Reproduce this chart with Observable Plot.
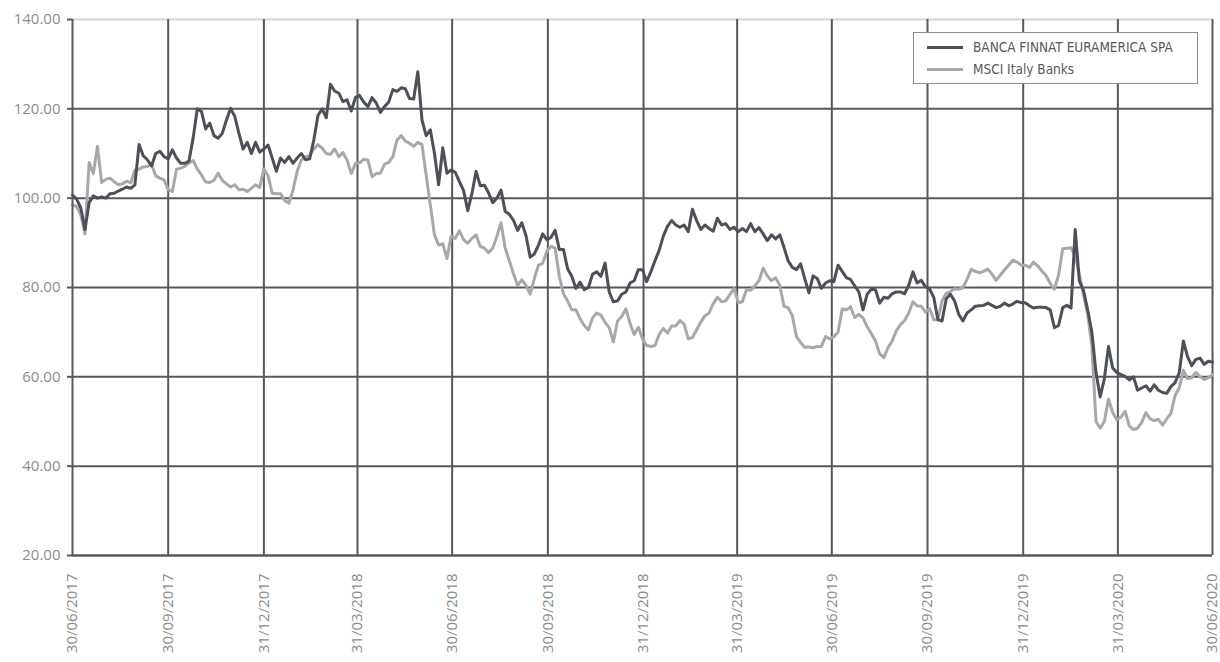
<!DOCTYPE html>
<html>
<head>
<meta charset="utf-8">
<script src="https://cdn.jsdelivr.net/npm/d3@7"></script>
<script src="https://cdn.jsdelivr.net/npm/@observablehq/plot@0.6"></script>
<style>
  html, body { margin: 0; padding: 0; background: #fff; }
  #wrap { position: relative; width: 1220px; height: 662px; overflow: hidden; }
  #legend {
    position: absolute; left: 913px; top: 32px; width: 285px; height: 52px;
    border: 1px solid #8d8e90; background: #fff; box-sizing: border-box;
    font-family: "Liberation Sans Narrow", "DejaVu Sans Condensed", sans-serif;
    font-size: 13.5px; color: #58595b;
  }
  #legend .item { position: absolute; left: 13px; display: flex; align-items: center; }
  #legend .sw { width: 36px; height: 3px; margin-right: 10px; }
</style>
</head>
<body>
<div id="wrap">
  <div id="chart"></div>
  <div id="legend">
    <div class="item" style="top:6px"><span class="sw" style="background:#4e5058"></span>BANCA FINNAT EURAMERICA SPA</div>
    <div class="item" style="top:28px"><span class="sw" style="background:#a8a8aa"></span>MSCI Italy Banks</div>
  </div>
</div>
<script>
// ---- data ----
const startDate = "2017-06-30";
const stepDays = 4; // one reading every 4 calendar days

const seriesNames = ["BANCA FINNAT EURAMERICA SPA", "MSCI Italy Banks"];

const banca = [
100.7,99.8,97.8,93,99,100.5,100,100.3,100,101,
101.1,101.6,102,102.5,102.2,103,112,109.5,108.6,107.2,
110,110.5,109.3,108.8,110.8,109,107.8,107.8,108.3,113.5,
120,119.4,115.5,116.8,114,113.4,114.5,117.5,120.1,118.3,
114.5,111,112.5,110,112.5,110.3,111,111.9,109,106,
109,108,109.3,107.8,109,110,108.6,108.8,113,118.5,
120,118,125.5,124,123.5,121.6,122,119.5,122.5,123,
121.5,120.5,122.5,121.3,119.2,120.5,121.5,124.3,123.9,124.7,
124.5,122.3,122.2,128.3,117.5,114,115.3,110,103,111.3,
105.6,106.3,105.8,103.7,101.7,97.2,101,106,102.8,102.9,
101.2,99,100,101.8,97,96.4,95,92.8,94.5,91.6,
86.8,87.5,89.5,92,90.7,91.2,92.8,88.5,88.5,84.2,
82.5,79.8,81.2,79.5,80,83,83.5,82.5,85.5,79,
76.8,77,78.5,79,81,81.5,84,84,81.3,83.5,
86,88.3,91.5,93.7,95,94,93.5,94,92.5,97.5,
95,93,94,93.2,92.6,95.5,94,94.3,93,93.5,
92.5,93.2,92.5,94.3,92.5,93.4,92,90.5,91.8,90.9,
91.8,89,86,84.5,84,85.3,82,78.8,82.6,82,
79.8,81,81.5,81.3,85,83.6,82.2,81.8,80.4,79,
75,78.5,79.6,79.5,76.5,77.8,77.6,78.6,79,79,
78.6,80.5,83.5,81,81.6,80.2,79.7,77.8,72.8,72.5,
77.5,78.5,77,74,72.5,74.3,75,75.8,75.9,76,
76.5,76,75.5,75.8,76.5,75.9,76.3,76.9,76.6,76.6,
75.9,75.4,75.6,75.6,75.5,75,71,71.5,75.5,76,
75.4,93,81.5,79.3,75,70,61,55.5,59.5,66.8,
62,61,60.5,60.1,59.3,60,57,57.5,58,56.8,
58.2,57,56.5,56.3,57.8,58.7,60.9,68,64.5,62.5,
63.9,64.2,62.8,63.5,63.3
];

const msci = [
98.5,98.1,96.3,92,108,105.5,111.6,103.5,104.2,104.5,
103.7,103,103.2,103.8,103.4,106.3,106.5,107,107.1,107.6,
105,104.5,104.1,101.9,101.5,106.5,106.7,107.1,107.9,108.4,
106.5,105.2,103.6,103.5,104,105.6,104,103.2,102.5,103,
101.9,102,101.5,102.2,103,102.4,106.5,105,101.1,101,
101,99.5,98.9,101.8,106,108.5,109.3,109.5,111,112,
111.2,110,109.8,111,109.3,110.2,108.5,105.5,107.8,107.9,
108.7,108.5,104.8,105.5,105.6,107.6,108,109.3,113,114,
112.8,112.3,111.6,112.5,112,105.2,98.5,91.8,89.5,89.8,
86.5,91.5,91,92.7,90.7,89.9,91,91.8,89.2,88.8,
87.8,88.8,91.5,94.5,88.8,86,83,80.5,81.7,80.5,
78.5,82,85,85.4,88.1,89.2,88.8,82.5,78.6,77,
75,75,73,71.5,70.5,73.2,74.3,73.8,72.2,71,
67.8,72.5,73.5,75.2,72,69.5,71.1,68.5,67,66.8,
67,69.5,70.8,69.8,71.4,71.4,72.6,71.8,68.5,68.8,
70.5,72.2,73.7,74.3,76.4,77.8,76.8,77,78.4,79.8,
76.6,76.8,79.5,79.4,80.4,81.5,84.3,82.6,81.5,82.2,
80.5,75.8,75.5,73.7,69,67.7,66.6,66.7,66.5,66.8,
66.8,69,68.5,69,70,75.2,75,75.7,73.3,74,
73.2,71.2,69.7,68,65.2,64.3,66.5,68,70.3,71.7,
72.6,74.3,76.8,75.9,75.8,74.5,75.3,72.8,72.8,77,
78.7,79.1,79.7,79.6,80,81.8,84.1,83.6,83.3,83.6,
84.1,83,81.6,82.8,83.9,85,86.1,85.7,85,85,
84.5,85.7,84.8,83.7,82.7,80.9,79.6,82.8,88.7,88.8,
88.9,87.2,82.8,78.4,74,67,50,48.5,50,55,
52,50.4,51,52.3,49,48.2,48.5,49.8,52,50.6,
50.2,50.5,49.2,50.6,51.8,55.8,57.5,61.5,59.6,59.8,
61,60,59.4,59.8,60.5
];

const xTickLabels = ["30/06/2017","30/09/2017","31/12/2017","31/03/2018","30/06/2018","30/09/2018",
  "31/12/2018","31/03/2019","30/06/2019","30/09/2019","31/12/2019","31/03/2020","30/06/2020"];
const yTicks = [20, 40, 60, 80, 100, 120, 140];

// ---- build ----
const parseLabel = d3.utcParse("%d/%m/%Y");
const tickDates = xTickLabels.map(parseLabel);
const labelOf = new Map(tickDates.map((d, i) => [+d, xTickLabels[i]]));
const t0 = d3.utcParse("%Y-%m-%d")(startDate);
const dates = banca.map((_, i) => d3.utcDay.offset(t0, stepDays * i));
const bancaData = banca.map((v, i) => ({date: dates[i], value: v}));
const msciData = msci.map((v, i) => ({date: dates[i], value: v}));

const gridColor = "#55585e";

const chart = Plot.plot({
  width: 1220,
  height: 662,
  marginLeft: 72,
  marginRight: 8,
  marginTop: 19,
  marginBottom: 107,
  style: {fontFamily: "'Open Sans', sans-serif", fontSize: "15px", color: "#8a8b8d", background: "#fff"},
  x: {type: "utc", domain: [tickDates[0], tickDates[tickDates.length - 1]], label: null},
  y: {domain: [20, 140], label: null},
  marks: [
    Plot.ruleY(yTicks.filter(v => v > 20 && v < 140), {stroke: gridColor, strokeWidth: 2}),
    Plot.ruleY([140], {stroke: "#d2d3d5", strokeWidth: 2}),
    Plot.ruleX(tickDates.slice(1), {stroke: gridColor, strokeWidth: 2}),
    Plot.line(msciData, {x: "date", y: "value", stroke: "#a8a8aa", strokeWidth: 3, strokeLinejoin: "round"}),
    Plot.line(bancaData, {x: "date", y: "value", stroke: "#4e5058", strokeWidth: 3, strokeLinejoin: "round"}),
    Plot.ruleY([20], {stroke: gridColor, strokeWidth: 2.5}),
    Plot.ruleX([tickDates[0]], {stroke: gridColor, strokeWidth: 2}),
    Plot.axisY({ticks: yTicks, tickFormat: d3.format(".2f"), tickSize: 5, tickPadding: 7, stroke: gridColor, strokeWidth: 2, fill: "#8a8b8d", fontSize: 15, label: null}),
    Plot.axisX({ticks: tickDates, tickFormat: d => labelOf.get(+d), tickRotate: -90, tickSize: 0, tickPadding: 18, fill: "#8a8b8d", fontSize: 15, label: null})
  ]
});
document.getElementById("chart").appendChild(chart);
</script>
</body>
</html>
